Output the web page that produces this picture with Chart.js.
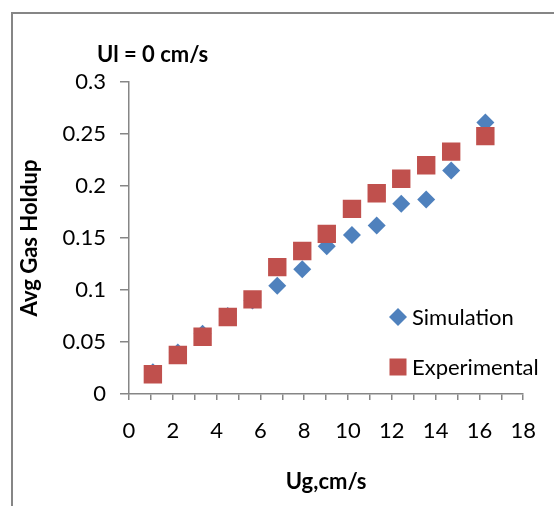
<!DOCTYPE html>
<html>
<head>
<meta charset="utf-8">
<title>Avg Gas Holdup</title>
<script src="https://cdn.jsdelivr.net/npm/chart.js@4"></script>
<style>
  body { margin: 0; background: #fff; }
  #chart { display: block; }
</style>
</head>
<body>
<canvas id="chart" width="554" height="506"></canvas>
<script>
// Ug (cm/s) and average gas holdup
const ugSim = [1.09, 2.23, 3.36, 4.51, 5.64, 6.77, 7.91, 9.03, 10.18, 11.31, 12.43, 13.57, 14.71, 16.27];
const holdupSim = [0.021, 0.040, 0.058, 0.075, 0.090, 0.104, 0.120, 0.142, 0.153, 0.162, 0.183, 0.187, 0.215, 0.261];
const ugExp = [1.09, 2.23, 3.36, 4.51, 5.64, 6.77, 7.91, 9.03, 10.18, 11.31, 12.43, 13.57, 14.71, 16.27];
const holdupExp = [0.019, 0.0375, 0.055, 0.074, 0.091, 0.122, 0.1375, 0.154, 0.178, 0.193, 0.207, 0.220, 0.233, 0.248];

const chartTitle = 'Ul = 0 cm/s';
const xTitle = 'Ug,cm/s';
const yTitle = 'Avg Gas Holdup';
const seriesNames = ['Simulation', 'Experimental'];

const FONT = 'Lato, "Open Sans", sans-serif';
const AXIS = '#868686';
const BLUE = '#4f81bd';
const RED = '#c0504d';

const toPoints = (xs, ys) => xs.map((x, i) => ({ x: x, y: ys[i] }));

// frame, title and legend drawn on top of the chart
const decorations = {
    id: 'decorations',
    afterDraw(chart) {
        const ctx = chart.ctx;
        ctx.save();
        ctx.strokeStyle = AXIS;
        ctx.lineWidth = 2;
        ctx.strokeRect(12, 13, 700, 700);

        ctx.fillStyle = '#000';
        ctx.font = 'bold 22px ' + FONT;
        ctx.textBaseline = 'middle';
        ctx.textAlign = 'left';
        ctx.fillText(chartTitle, 97, 55);

        // legend
        ctx.font = '22px ' + FONT;
        ctx.fillStyle = BLUE;
        ctx.beginPath();
        ctx.moveTo(389, 317);
        ctx.lineTo(398, 308);
        ctx.lineTo(407, 317);
        ctx.lineTo(398, 326);
        ctx.closePath();
        ctx.fill();
        ctx.fillStyle = RED;
        ctx.fillRect(389.5, 358.5, 17, 17);
        ctx.fillStyle = '#000';
        ctx.fillText(seriesNames[0], 412, 318);
        ctx.fillText(seriesNames[1], 412, 368);
        ctx.restore();
    }
};

new Chart(document.getElementById('chart'), {
    type: 'scatter',
    data: {
        datasets: [
            {
                label: seriesNames[0],
                data: toPoints(ugSim, holdupSim),
                pointStyle: 'rectRot',
                pointRadius: 9,
                pointHoverRadius: 9,
                backgroundColor: BLUE,
                borderColor: BLUE,
                borderWidth: 0,
                order: 2
            },
            {
                label: seriesNames[1],
                data: toPoints(ugExp, holdupExp),
                pointStyle: 'rect',
                pointRadius: 13,
                pointHoverRadius: 13,
                backgroundColor: RED,
                borderColor: RED,
                borderWidth: 0,
                order: 1
            }
        ]
    },
    options: {
        responsive: false,
        animation: false,
        layout: { padding: { left: 0, right: 18, top: 82, bottom: 0 } },
        plugins: {
            legend: { display: false },
            title: { display: false },
            tooltip: { enabled: false }
        },
        scales: {
            x: {
                type: 'linear',
                min: 0,
                max: 18,
                afterFit: (scale) => { scale.height = 112; },
                border: { color: AXIS, width: 1.5 },
                grid: { drawOnChartArea: false, drawTicks: true, tickLength: 6, color: AXIS, lineWidth: 1.5 },
                ticks: {
                    stepSize: 1,
                    autoSkip: false,
                    maxRotation: 0,
                    padding: 18,
                    color: '#000',
                    font: { family: FONT, size: 22 },
                    callback: (v) => (v % 2 === 0 ? String(v) : '')
                },
                title: {
                    display: true,
                    text: xTitle,
                    color: '#000',
                    font: { family: FONT, size: 22, weight: 'bold' },
                    padding: { top: 0, bottom: 11 }
                }
            },
            y: {
                type: 'linear',
                min: 0,
                max: 0.3,
                afterFit: (scale) => { scale.width = 129; },
                border: { color: AXIS, width: 1.5 },
                grid: { drawOnChartArea: false, drawTicks: true, tickLength: 9, color: AXIS, lineWidth: 1.5 },
                ticks: {
                    stepSize: 0.05,
                    padding: 14,
                    color: '#000',
                    font: { family: FONT, size: 22 },
                    callback: (v) => String(+v.toFixed(2))
                },
                title: {
                    display: true,
                    text: yTitle,
                    color: '#000',
                    font: { family: FONT, size: 22, weight: 'bold' },
                    padding: { top: 17, bottom: 0 }
                }
            }
        }
    },
    plugins: [decorations]
});
</script>
</body>
</html>
